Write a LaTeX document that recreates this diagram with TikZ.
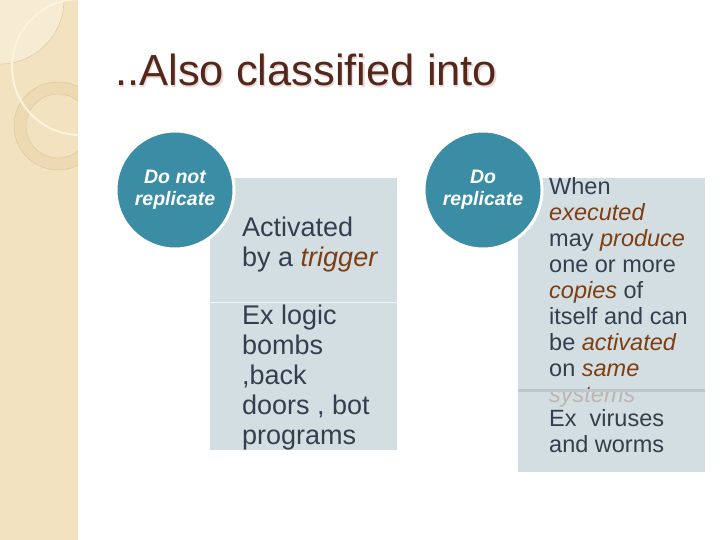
\documentclass[tikz,border=0pt]{standalone}
\usepackage{fontspec}
\setmainfont{Liberation Sans}
\usetikzlibrary{positioning}
\definecolor{tealC}{HTML}{3A8DA4}
\definecolor{panelC}{HTML}{D3DEE3}
\definecolor{slateT}{HTML}{333E50}
\definecolor{rustT}{HTML}{7E3E12}
\definecolor{titleC}{HTML}{55261C}
\definecolor{shadeT}{HTML}{E6DAD4}
\definecolor{sandC}{HTML}{F2E2C0}
\definecolor{sandL}{HTML}{F6EBD3}
\definecolor{creamC}{HTML}{FBF4DF}
\definecolor{tanC}{HTML}{EEDAB2}
\definecolor{tanD}{HTML}{D9C297}
\tikzset{
  classC/.style={circle, draw=white, line width=3pt, fill=tealC,
                 minimum size=118pt, inner sep=0pt, text=white, align=center,
                 font=\fontsize{19.5}{22}\selectfont\bfseries\itshape},
  panel/.style={fill=panelC, draw=none, anchor=north west, inner sep=0pt},
  bodyL/.style={text=slateT, align=left, anchor=base west, inner sep=0pt,
                font=\fontsize{27}{30}\selectfont},
  bodyR/.style={text=slateT, align=left, anchor=base west, inner sep=0pt,
                font=\fontsize{23.5}{26}\selectfont},
}
\newcommand{\hlw}[1]{\textcolor{rustT}{\textit{#1}}}
\begin{document}
\begin{tikzpicture}[x=1pt, y=-1pt]
    \useasboundingbox (0,0) rectangle (720,540);
    %% decorated side strip
    \begin{scope}
      \clip (0,0) rectangle (78,540);
      \fill[sandC] (0,0) rectangle (78,540);
      \fill[sandL] (0,0) circle (64);
      \draw[tanD, line width=0.4pt] (0,0) circle (64);
      \fill[tanC, even odd rule] (58,126) circle (44) (58,126) circle (32);
      \draw[tanD, line width=0.4pt] (58,126) circle (44) (58,126) circle (32);
      \draw[creamC, line width=2pt] (80,67) circle (68);
    \end{scope}
    %% title
    \node[font=\fontsize{43.5}{43.5}\selectfont, text=shadeT, anchor=base west,
          inner sep=0pt] (titleSh) at (116.2,87.2) {..Also classified into};
    \node[font=\fontsize{43.5}{43.5}\selectfont, text=titleC, anchor=base west,
          inner sep=0pt] (title) at (115,86) {..Also classified into};
    %% panels
    \node[panel, minimum width=187pt, minimum height=124pt] (trigBox) at (210,178) {};
    \node[panel, minimum width=187pt, minimum height=148pt] (exBoxL) at (210,302) {};
    \draw[white!70!panelC, line width=1pt] (trigBox.south west) -- (trigBox.south east);
    \node[panel, minimum width=187pt, minimum height=294pt] (copyBox) at (518,178) {};
    %% texts (anchored at the baseline of the last line)
    \node[bodyL] (trigTxt) at (242,266) {Activated\\by a \hlw{trigger}};
    \node[bodyL] (exTxtL) at (242,444) {Ex logic\\bombs\\,back\\doors , bot\\programs};
    \node[bodyR] (copyTxt) at (549,402) {When\\\hlw{executed}\\may \hlw{produce}\\one or more\\\hlw{copies} of\\itself and can\\be \hlw{activated}\\on \hlw{same}\\\hlw{systems}};
    \node[panel, minimum width=187pt, minimum height=82pt, fill opacity=0.75] (exBoxR) at (518,390) {};
    \draw[black!10!panelC, line width=3pt] (exBoxR.north west) -- (exBoxR.north east);
    \node[bodyR] (exTxtR) at (549,452) {Ex~ viruses\\and worms};
    %% classes
    \node[classC] (noRep) at (175,190) {Do not\\replicate};
    \node[classC] (doRep) at (483,190) {Do\\replicate};
\end{tikzpicture}
\end{document}
